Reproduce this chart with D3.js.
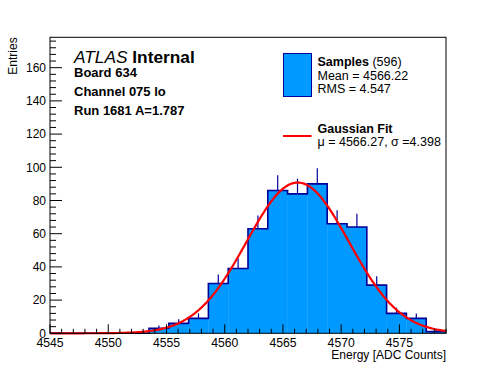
<!DOCTYPE html>
<html>
<head>
<meta charset="utf-8">
<script src="https://cdn.jsdelivr.net/npm/d3@7"></script>
<style>
  body { margin: 0; background: #fff; }
  svg { display: block; font-family: "Liberation Sans", Arial, sans-serif; }
</style>
</head>
<body>
<svg id="chart" width="496" height="372"></svg>
<script>
// Histogram binning (ADC counts) and bin contents
const aBinRange = [4545, 4579];
const iBinCount = 20;
const aCounts = [0, 0, 0, 0, 0, 3, 6, 9, 30, 39, 63, 86, 84, 90, 66, 64, 29, 12, 9, 1];
const iEntries = 596;

// Gaussian fit parameters: constant, mean, sigma
const aFit = [90.8, 4566.27, 4.398];

// Axis ticks
const aXMajor = [4545, 4550, 4555, 4560, 4565, 4570, 4575];
const aYMajor = [0, 20, 40, 60, 80, 100, 120, 140, 160];
const aYRange = [0, 178.3];

// Text blocks
const aLabelLines = ['Board 634', 'Channel 075 lo', 'Run 1681 A=1.787'];
const aSamplesLines = ['Mean = 4566.22', 'RMS = 4.547'];
const sFitLine = 'μ = 4566.27, σ =4.398';

const jPadding = { l: 50, r: 50, t: 37.3, b: 38.7 };
const iWidth = 496;
const iHeight = 372;
const iInnerWidth = iWidth - jPadding.l - jPadding.r;
const iInnerHeight = iHeight - jPadding.t - jPadding.b;

const sFill = '#0099ff';
const sLine = '#000099';
const sFitColour = '#ff0000';

const oSvg = d3.select('#chart');

const oScaleX = d3.scaleLinear().domain(aBinRange).range([jPadding.l, jPadding.l + iInnerWidth]);
const oScaleY = d3.scaleLinear().domain(aYRange).range([jPadding.t + iInnerHeight, jPadding.t]);

// Build the bin objects
const fBinW = (aBinRange[1] - aBinRange[0]) / iBinCount;
const aBins = aCounts.map((n, i) => ({
  x0: aBinRange[0] + i * fBinW,
  x1: aBinRange[0] + (i + 1) * fBinW,
  n
}));

const oPlotG = oSvg.append('g').attr('class', 'plot-g');

// Error bars first so the fill hides the lower half
oPlotG.selectAll('line.err')
  .data(aBins.filter(d => d.n > 0))
  .enter()
  .append('line')
  .attr('class', 'err')
  .attr('x1', d => oScaleX((d.x0 + d.x1) / 2))
  .attr('x2', d => oScaleX((d.x0 + d.x1) / 2))
  .attr('y1', d => oScaleY(d.n + Math.sqrt(d.n)))
  .attr('y2', d => oScaleY(Math.max(0, d.n - Math.sqrt(d.n))))
  .attr('stroke', sLine)
  .attr('stroke-width', 1.2);

// Bar fill
oPlotG.selectAll('rect.bar')
  .data(aBins)
  .enter()
  .append('rect')
  .attr('class', 'bar')
  .attr('x', d => oScaleX(d.x0))
  .attr('width', d => oScaleX(d.x1) - oScaleX(d.x0) + 0.3)
  .attr('y', d => oScaleY(d.n))
  .attr('height', d => oScaleY(0) - oScaleY(d.n))
  .attr('fill', sFill);

// Step outline
const aStepPts = aBins.map(d => [d.x0, d.n]);
aStepPts.push([aBinRange[1], aCounts[aCounts.length - 1]]);
const fnStep = d3.line()
  .x(d => oScaleX(d[0]))
  .y(d => oScaleY(d[1]))
  .curve(d3.curveStepAfter);
oPlotG.append('path')
  .attr('d', fnStep(aStepPts))
  .attr('fill', 'none')
  .attr('stroke', sLine)
  .attr('stroke-width', 1.6);

// Gaussian fit curve
const [fConst, fMu, fSigma] = aFit;
const fnGaus = x => fConst * Math.exp(-0.5 * ((x - fMu) / fSigma) ** 2);
const aFitPts = d3.range(aBinRange[0], aBinRange[1] + 0.001, 0.1).map(x => [x, fnGaus(x)]);
oPlotG.append('path')
  .attr('d', d3.line().x(d => oScaleX(d[0])).y(d => oScaleY(d[1]))(aFitPts))
  .attr('fill', 'none')
  .attr('stroke', sFitColour)
  .attr('stroke-width', 2.2);

// Frame
oSvg.append('rect')
  .attr('x', jPadding.l)
  .attr('y', jPadding.t)
  .attr('width', iInnerWidth)
  .attr('height', iInnerHeight)
  .attr('fill', 'none')
  .attr('stroke', '#000')
  .attr('stroke-width', 1);

// Axes: ticks drawn inward, ROOT style
const oAxisG = oSvg.append('g').attr('class', 'axes-g');
const iY0 = oScaleY(0);

const aXMinor = d3.range(aBinRange[0], aBinRange[1] + 0.001, 1).filter(v => !aXMajor.includes(v));
oAxisG.selectAll('line.xminor').data(aXMinor).enter().append('line')
  .attr('x1', d => oScaleX(d)).attr('x2', d => oScaleX(d))
  .attr('y1', iY0).attr('y2', iY0 - 4.5)
  .attr('stroke', '#000');
oAxisG.selectAll('line.xmajor').data(aXMajor).enter().append('line')
  .attr('x1', d => oScaleX(d)).attr('x2', d => oScaleX(d))
  .attr('y1', iY0).attr('y2', iY0 - 9)
  .attr('stroke', '#000');
oAxisG.selectAll('text.xlab').data(aXMajor).enter().append('text')
  .attr('x', d => oScaleX(d))
  .attr('y', iY0 + 13.8)
  .attr('text-anchor', 'middle')
  .attr('font-size', 12.2)
  .text(d => d);

const aYMinor = d3.range(0, aYRange[1], 4).filter(v => !aYMajor.includes(v));
oAxisG.selectAll('line.yminor').data(aYMinor).enter().append('line')
  .attr('x1', jPadding.l).attr('x2', jPadding.l + 6)
  .attr('y1', d => oScaleY(d)).attr('y2', d => oScaleY(d))
  .attr('stroke', '#000');
oAxisG.selectAll('line.ymajor').data(aYMajor).enter().append('line')
  .attr('x1', jPadding.l).attr('x2', jPadding.l + 12)
  .attr('y1', d => oScaleY(d)).attr('y2', d => oScaleY(d))
  .attr('stroke', '#000');
oAxisG.selectAll('text.ylab').data(aYMajor).enter().append('text')
  .attr('x', jPadding.l - 4)
  .attr('y', d => oScaleY(d) + 4.3)
  .attr('text-anchor', 'end')
  .attr('font-size', 12)
  .text(d => d);

// Axis titles
oSvg.append('text')
  .attr('x', jPadding.l + iInnerWidth)
  .attr('y', 359.2)
  .attr('text-anchor', 'end')
  .attr('font-size', 12)
  .text('Energy [ADC Counts]');
oSvg.append('text')
  .attr('transform', `translate(17, ${jPadding.t}) rotate(-90)`)
  .attr('text-anchor', 'end')
  .attr('font-size', 12)
  .text('Entries');

// ATLAS label block
const oAtlas = oSvg.append('text').attr('x', 74).attr('y', 63).attr('font-size', 17.3);
oAtlas.append('tspan').attr('font-style', 'italic').text('ATLAS');
oAtlas.append('tspan').attr('font-weight', 'bold').text(' Internal');
oSvg.selectAll('text.info').data(aLabelLines).enter().append('text')
  .attr('class', 'info')
  .attr('x', 74)
  .attr('y', (d, i) => 77.3 + i * 19)
  .attr('font-size', 13)
  .attr('font-weight', 'bold')
  .text(d => d);

// Legend
const oKeyG = oSvg.append('g').attr('class', 'key-g');
oKeyG.append('rect')
  .attr('x', 283.5).attr('y', 53.5)
  .attr('width', 28).attr('height', 43)
  .attr('fill', sFill).attr('stroke', sLine).attr('stroke-width', 1);
const oSamples = oKeyG.append('text').attr('x', 317.5).attr('y', 66).attr('font-size', 12.5);
oSamples.append('tspan').attr('font-weight', 'bold').text('Samples');
oSamples.append('tspan').text(` (${iEntries})`);
oKeyG.selectAll('text.stat').data(aSamplesLines).enter().append('text')
  .attr('x', 317.5)
  .attr('y', (d, i) => 80 + i * 13.3)
  .attr('font-size', 12.5)
  .text(d => d);
oKeyG.append('line')
  .attr('x1', 283).attr('x2', 311.5)
  .attr('y1', 136).attr('y2', 136)
  .attr('stroke', sFitColour).attr('stroke-width', 2);
oKeyG.append('text')
  .attr('x', 317.5).attr('y', 132.7)
  .attr('font-size', 12.5)
  .attr('font-weight', 'bold')
  .text('Gaussian Fit');
oKeyG.append('text')
  .attr('x', 317.5).attr('y', 145.5)
  .attr('font-size', 12.5)
  .text(sFitLine);
</script>
</body>
</html>
